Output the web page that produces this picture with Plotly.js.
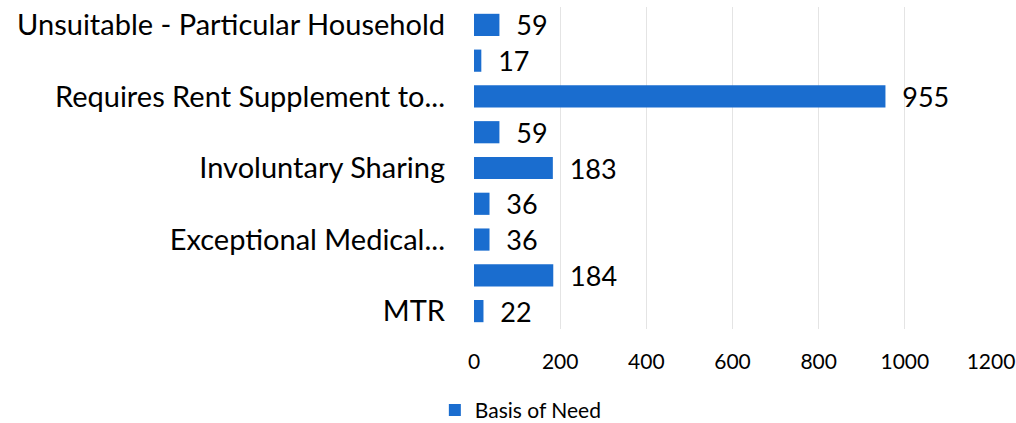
<!DOCTYPE html>
<html>
<head>
<meta charset="utf-8">
<script src="https://cdn.plot.ly/plotly-3.0.1.min.js"></script>
<style>html,body{margin:0;padding:0;background:#fff;}#chart{width:1016px;height:423px;}</style>
</head>
<body>
<div id="chart"></div>
<script>
// Category tick labels as shown (every other label is hidden in the original)
const categories = [
  "Unsuitable - Particular Household",
  "",
  "Requires Rent Supplement to...",
  "",
  "Involuntary Sharing",
  "",
  "Exceptional Medical...",
  "",
  "MTR"
];
const values = [59, 17, 955, 59, 183, 36, 36, 184, 22];
const seriesName = "Basis of Need";
const xTicks = [0, 200, 400, 600, 800, 1000, 1200];

const positions = categories.map((c, i) => i);
const FONT = "Lato, 'Open Sans', sans-serif";

const trace = {
  type: "bar",
  orientation: "h",
  name: seriesName,
  x: values,
  y: positions,
  marker: {color: "#1a6dcf"},
  text: values.map(v => "\u00a0\u00a0" + v),
  textposition: "outside",
  constraintext: "none",
  textfont: {family: FONT, size: 27, color: "#000"},
  cliponaxis: false,
  showlegend: true,
  hoverinfo: "x"
};

const layout = {
  width: 1016,
  height: 423,
  margin: {l: 474, r: 25, t: 7, b: 94, autoexpand: false},
  paper_bgcolor: "#fff",
  plot_bgcolor: "#fff",
  bargap: 0.38,
  font: {family: FONT, color: "#000"},
  xaxis: {
    range: [0, 1200],
    tickvals: xTicks,
    ticktext: xTicks.map(String),
    showgrid: true,
    gridcolor: "#e4e4e4",
    gridwidth: 1,
    zeroline: false,
    showline: false,
    ticks: "",
    automargin: false,
    ticklabelstandoff: 18,
    tickfont: {family: FONT, size: 21, color: "#000"}
  },
  yaxis: {
    tickvals: positions,
    ticktext: categories,
    autorange: false,
    range: [8.5, -0.5],
    showgrid: false,
    zeroline: false,
    showline: false,
    ticks: "",
    automargin: false,
    ticklabelstandoff: 28,
    tickfont: {family: FONT, size: 29, color: "#000"}
  },
  showlegend: true,
  legend: {
    orientation: "h",
    xref: "container",
    yref: "container",
    x: 0.428,
    xanchor: "left",
    y: 0.03,
    yanchor: "middle",
    font: {family: FONT, size: 21, color: "#000"},
    itemwidth: 30
  }
};

Plotly.newPlot("chart", [trace], layout, {displayModeBar: false, staticPlot: true});
</script>
</body>
</html>
